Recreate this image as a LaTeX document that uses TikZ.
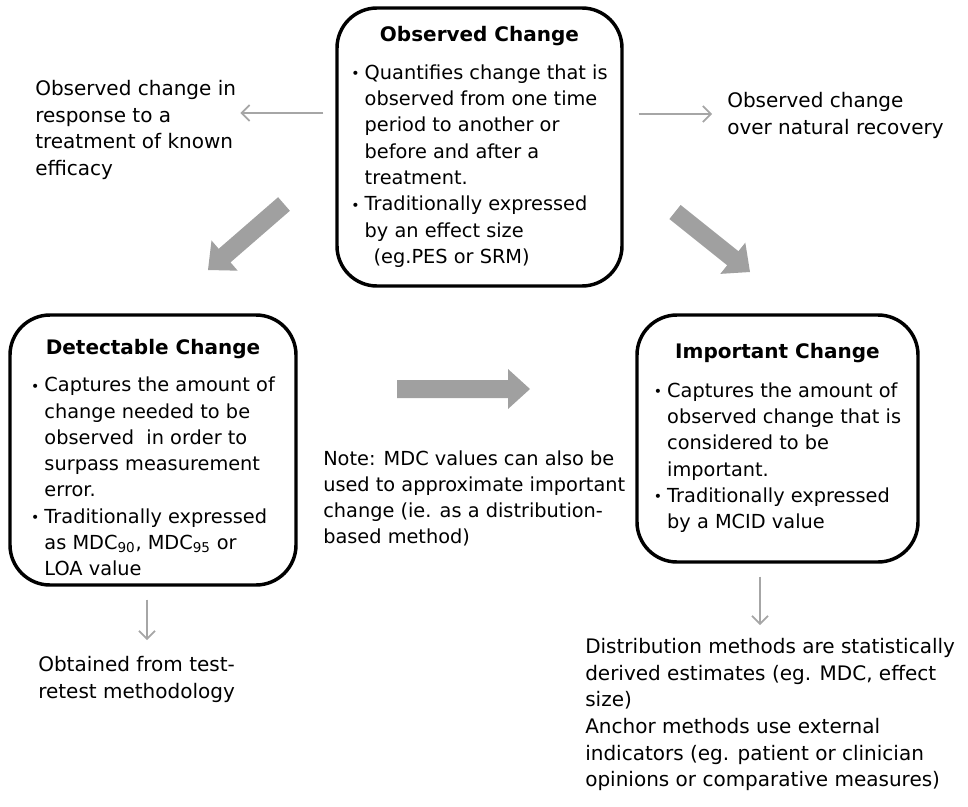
\documentclass[tikz,border=0pt]{standalone}
\usepackage{fontspec}
\setmainfont{DejaVu Sans}
\usetikzlibrary{arrows.meta,positioning,calc}
\definecolor{arrowgray}{HTML}{A0A0A0}
\definecolor{linkgray}{HTML}{A6A6A6}

% bullet and hanging indent for the box lists
\newcommand{\blt}{\makebox[10pt][l]{\fontsize{10.5pt}{10pt}\selectfont\raisebox{0.5pt}{•}}}
\newcommand{\ind}{\hspace*{10pt}}
% thick block arrow from #1 (tail) to #2 (tip)
\newcommand{\blockarrow}[2]{%
  \coordinate (bh) at ($(#2)!16.5pt!(#1)$);
  \fill[arrowgray] ($(#1)!6.75pt!90:(#2)$) -- ($(bh)!6.75pt!90:(#2)$) -- ($(bh)!15pt!90:(#2)$)
    -- (#2) -- ($(bh)!15pt!-90:(#2)$) -- ($(bh)!6.75pt!-90:(#2)$) -- ($(#1)!6.75pt!-90:(#2)$) -- cycle;}

\begin{document}
\begin{tikzpicture}[x=0.75pt,y=-0.75pt,font=\fontsize{15pt}{20pt}\selectfont,
  changebox/.style={draw,line width=2.6pt,rounded corners=30pt,inner sep=0pt,font=\fontsize{14.5pt}{19.7pt}\selectfont},
  plain/.style={align=left,anchor=north west,inner sep=0pt},
  link/.style={draw=linkgray,line width=1.3pt,-{Straight Barb[length=6pt,width=12pt]}}]
  \useasboundingbox (0,0) rectangle (968,807);

  \node[changebox,minimum width=213.75pt,minimum height=208.5pt] (obs) at (479.5,147) {%
    \begin{tabular}{@{}l@{}}
      \multicolumn{1}{c}{\fontsize{15pt}{19.7pt}\selectfont\bfseries Observed Change}\\[9pt]
      \blt Quantifies change that is\\
      \ind observed from one time\\
      \ind period to another or\\
      \ind before and after a\\
      \ind treatment.\\
      \blt Traditionally expressed\\
      \ind by an effect size\\
      \ind\hspace*{6.75pt}(eg.PES or SRM)
    \end{tabular}};
  \node[changebox,minimum width=214.5pt,minimum height=202.5pt] (det) at (153,450) {%
    \begin{tabular}{@{}l@{}}
      \multicolumn{1}{c}{\rule{0pt}{28.8pt}\fontsize{15pt}{19.7pt}\selectfont\bfseries Detectable Change}\\[8pt]
      \blt Captures the amount of\\
      \ind change needed to be\\
      \ind observed\ \ in order to\\
      \ind surpass measurement\\
      \ind error.\\
      \blt Traditionally expressed\\
      \ind as MDC\textsubscript{90}, MDC\textsubscript{95} or\\
      \ind LOA value
    \end{tabular}};
  \node[changebox,minimum width=210.75pt,minimum height=185.25pt] (imp) at (777.5,438.5) {%
    \begin{tabular}{@{}l@{}}
      \multicolumn{1}{c}{\fontsize{15pt}{19.7pt}\selectfont\bfseries Important Change}\\[9pt]
      \blt Captures the amount of\\
      \ind observed change that is\\
      \ind considered to be\\
      \ind important.\\
      \blt Traditionally expressed\\
      \ind by a MCID value
    \end{tabular}};

  \node[plain] (known) at (35,80) {Observed change in\\response to a\\treatment of known\\efficacy};
  \node[plain] (natural) at (727,92) {Observed change\\over natural recovery};
  \node[plain,font=\fontsize{14.5pt}{19.5pt}\selectfont] (note) at (323,451) {Note: MDC values can also be\\used to approximate important\\change (ie. as a distribution-\\based method)};
  \node[plain] (retest) at (38,656) {Obtained from test-\\retest methodology};
  \node[plain] (methods) at (585,638) {Distribution methods are statistically\\derived estimates (eg. MDC, effect\\size)\\Anchor methods use external\\indicators (eg. patient or clinician\\opinions or comparative measures)};

  % thin links
  \draw[link] ($(obs.west)+(-12,-34)$) -- ($(known.east |- obs.west)+(4,-34)$);
  \draw[link] ($(obs.east)+(15,-33)$) -- ($(natural.west |- obs.east)+(-15,-33)$);
  \draw[link] ($(det.south)+(-6,13)$) -- ($(retest.north -| det.south)+(-6,-16)$);
  \draw[link] ($(imp.south)+(-17.5,13)$) -- ($(methods.north -| imp.south)+(-17.5,-13)$);

  % block arrows
  \coordinate (odtail) at (284,204);
  \coordinate (odtip) at (208,270);
  \coordinate (oitail) at (675,212);
  \coordinate (oitip) at (750,272);
  \coordinate (ditail) at (397,389);
  \coordinate (ditip) at (530,389);
  \blockarrow{odtail}{odtip}
  \blockarrow{oitail}{oitip}
  \blockarrow{ditail}{ditip}
\end{tikzpicture}
\end{document}
